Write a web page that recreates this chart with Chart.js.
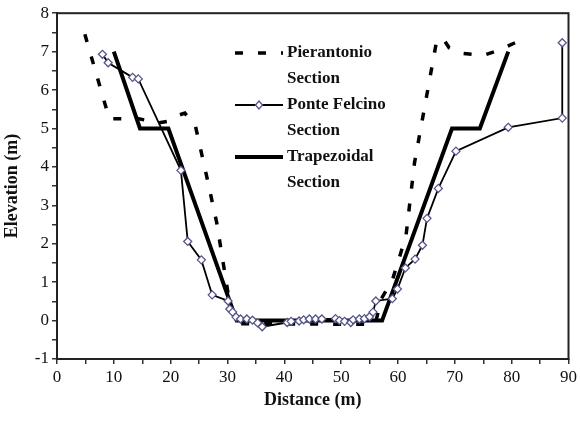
<!DOCTYPE html>
<html>
<head>
<meta charset="utf-8">
<script src="https://cdn.jsdelivr.net/npm/chart.js@4.4.0/dist/chart.umd.min.js"></script>
<style>
  html, body { margin: 0; padding: 0; background: #fff; }
  #wrap { width: 580px; height: 421px; }
</style>
</head>
<body>
<div id="wrap"><canvas id="profileChart"></canvas></div>
<script>
// Cross sections (distance m, elevation m)
const pierantonioX = [4.9, 9.2, 14.4, 18, 20, 21.5, 22.5, 23.5, 24.3, 26.3, 28.1, 30.1, 31.3, 56, 57, 59, 61.4, 62.9, 66.7, 67.8, 69, 71, 75, 78, 81.6];
const pierantonioY = [7.45, 5.25, 5.25, 5.15, 5.2, 5.35, 5.4, 5.2, 5.1, 3.78, 2.55, 0.71, -0.08, -0.1, 0.55, 1.05, 2.2, 4.1, 7.2, 7.37, 7.1, 6.96, 6.9, 7.05, 7.3];

const ponteX = [8.0, 9.0, 13.3, 14.3, 21.8, 23.0, 25.4, 27.3, 30.1, 30.4, 30.9, 31.5, 32.3, 33.4, 34.4, 35.3, 36.1, 40.5, 41.2, 42.6, 43.4, 44.4, 45.5, 46.6, 49.0, 49.7, 50.6, 51.7, 52.1, 53.2, 54.1, 55.0, 55.6, 56.1, 59.0, 59.9, 61.3, 63.0, 64.3, 65.1, 67.1, 70.2, 79.4, 88.9, 88.9];
const ponteY = [6.93, 6.71, 6.33, 6.29, 3.91, 2.06, 1.58, 0.67, 0.51, 0.3, 0.22, 0.09, 0.04, 0.04, 0.01, -0.06, -0.16, -0.05, -0.02, -0.01, 0.02, 0.04, 0.04, 0.04, 0.05, 0.0, -0.02, -0.05, 0.02, 0.04, 0.05, 0.1, 0.22, 0.51, 0.57, 0.82, 1.37, 1.6, 1.96, 2.66, 3.44, 4.41, 5.03, 5.27, 7.23];

const trapezoidX = [10, 14.6, 19.6, 31.6, 57.2, 69.5, 74.4, 79.4];
const trapezoidY = [7, 5, 5, 0, 0, 5, 5, 7];

const xTickLabels = [0, 10, 20, 30, 40, 50, 60, 70, 80, 90];
const yTickLabels = [-1, 0, 1, 2, 3, 4, 5, 6, 7, 8];

function toPoints(xs, ys) {
  return xs.map((x, i) => ({ x: x, y: ys[i] }));
}

const serif = "'Liberation Serif', 'Times New Roman', serif";

// frame round the plot + legend inside it
const framePlugin = {
  id: "frame",
  afterDraw(chart) {
    const ctx = chart.ctx;
    const a = chart.chartArea;
    ctx.save();
    ctx.strokeStyle = "#222";
    ctx.lineWidth = 2;
    ctx.strokeRect(a.left, a.top, a.right - a.left, a.bottom - a.top);

    const rows = [
      { ds: 0, lines: ["Pierantonio", "Section"] },
      { ds: 1, lines: ["Ponte Felcino", "Section"] },
      { ds: 2, lines: ["Trapezoidal", "Section"] },
    ];
    const x0 = 235, x1 = 283, tx = 287;
    let y = 53;
    ctx.font = "bold 17px " + serif;
    ctx.textBaseline = "middle";
    ctx.fillStyle = "#111";
    rows.forEach((r) => {
      const ds = chart.data.datasets[r.ds];
      ctx.save();
      ctx.strokeStyle = ds.borderColor;
      ctx.lineWidth = ds.borderWidth;
      ctx.setLineDash(ds.borderDash || []);
      ctx.beginPath();
      ctx.moveTo(x0, y);
      ctx.lineTo(x1, y);
      ctx.stroke();
      ctx.restore();
      if (ds.pointRadius > 0) {
        const c = (x0 + x1) / 2;
        ctx.save();
        ctx.fillStyle = ds.pointBackgroundColor;
        ctx.strokeStyle = ds.pointBorderColor;
        ctx.lineWidth = ds.pointBorderWidth;
        ctx.beginPath();
        ctx.moveTo(c, y - 4);
        ctx.lineTo(c + 3.5, y);
        ctx.lineTo(c, y + 4);
        ctx.lineTo(c - 3.5, y);
        ctx.closePath();
        ctx.fill();
        ctx.stroke();
        ctx.restore();
      }
      ctx.fillText(r.lines[0], tx, y);
      ctx.fillText(r.lines[1], tx, y + 26);
      y += 52;
    });
    ctx.restore();
  },
};

const ctx = document.getElementById("profileChart").getContext("2d");

const myChart = new Chart(ctx, {
  type: "line",
  data: {
    datasets: [
      {
        label: "Pierantonio Section",
        data: toPoints(pierantonioX, pierantonioY),
        borderColor: "#000",
        borderWidth: 3.5,
        borderDash: [8, 15],
        pointRadius: 0,
        tension: 0,
        order: 3,
      },
      {
        label: "Ponte Felcino Section",
        data: toPoints(ponteX, ponteY),
        borderColor: "#000",
        borderWidth: 1.8,
        pointStyle: "rectRot",
        pointRadius: 4,
        pointBackgroundColor: "#fff",
        pointBorderColor: "#55558c",
        pointBorderWidth: 1.3,
        tension: 0,
        order: 1,
      },
      {
        label: "Trapezoidal Section",
        data: toPoints(trapezoidX, trapezoidY),
        borderColor: "#000",
        borderWidth: 4,
        pointRadius: 0,
        tension: 0,
        order: 2,
      },
    ],
  },
  options: {
    responsive: true,
    maintainAspectRatio: false,
    animation: false,
    layout: { padding: { left: 0, right: 10, top: 11, bottom: 10 } },
    scales: {
      x: {
        type: "linear",
        min: 0,
        max: 90,
        afterFit(scale) { scale.height = 52; },
        border: { display: true, color: "#333", width: 2 },
        grid: { drawOnChartArea: false, drawTicks: true, tickLength: 5, color: "#333", lineWidth: 1.5 },
        ticks: {
          stepSize: 5,
          autoSkip: false,
          maxRotation: 0,
          padding: 3,
          color: "#111",
          font: { family: serif, size: 17 },
          callback: (v) => (xTickLabels.includes(v) ? String(v) : ""),
        },
        title: {
          display: true,
          text: "Distance (m)",
          color: "#111",
          font: { family: serif, size: 18, weight: "bold" },
          padding: { top: 0, bottom: 0 },
        },
      },
      y: {
        min: -1,
        max: 8,
        afterFit(scale) { scale.width = 57; },
        border: { display: true, color: "#333", width: 2 },
        grid: { drawOnChartArea: false, drawTicks: true, tickLength: 5, color: "#333", lineWidth: 1.5 },
        ticks: {
          stepSize: 0.5,
          autoSkip: false,
          padding: 3,
          color: "#111",
          font: { family: serif, size: 17 },
          callback: (v) => (yTickLabels.includes(v) ? String(v) : ""),
        },
        title: {
          display: true,
          text: "Elevation (m)",
          color: "#111",
          font: { family: serif, size: 18, weight: "bold" },
          padding: { top: 2, bottom: 0 },
        },
      },
    },
    plugins: {
      legend: { display: false },
      tooltip: { enabled: false },
    },
  },
  plugins: [framePlugin],
});
</script>
</body>
</html>
